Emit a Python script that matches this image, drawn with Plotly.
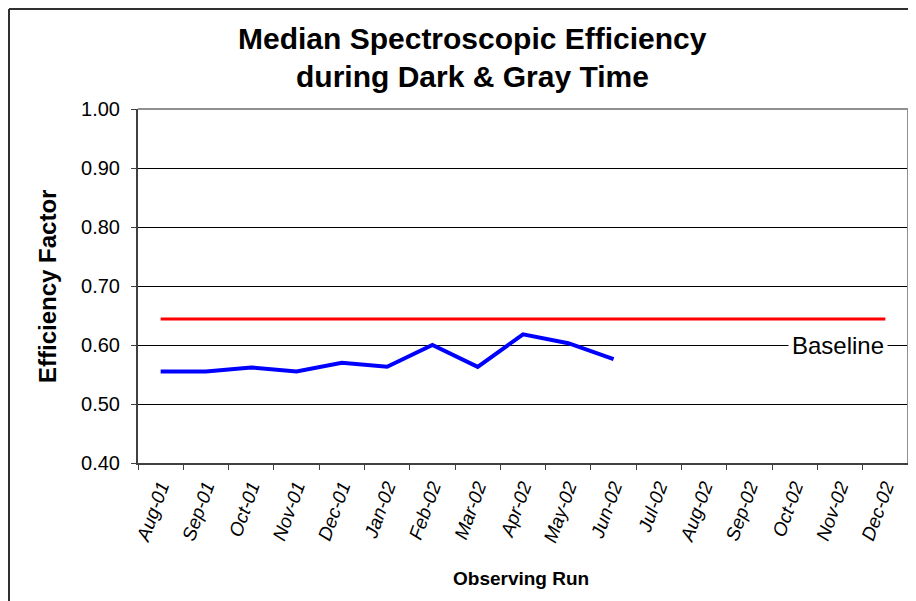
import plotly.graph_objects as go

months = ["Aug-01", "Sep-01", "Oct-01", "Nov-01", "Dec-01", "Jan-02", "Feb-02",
          "Mar-02", "Apr-02", "May-02", "Jun-02", "Jul-02", "Aug-02", "Sep-02",
          "Oct-02", "Nov-02", "Dec-02"]
efficiency = [0.555, 0.555, 0.562, 0.555, 0.570, 0.563, 0.600, 0.563, 0.618, 0.603, 0.576]
baseline_value = 0.644
baseline = [baseline_value] * len(months)
y_ticks = [0.40, 0.50, 0.60, 0.70, 0.80, 0.90, 1.00]

OFF = 8  # browser body margin
W, H = 916 - OFF, 601 - OFF
# plot area in reference pixels: x 138..908, y 109..463
L, R, T, B = 138 - OFF, 916 - 908, 109 - OFF, 601 - 463
pw, ph = W - L - R, H - T - B

def px_x(p):
    return (p - OFF - L) / pw

def px_y(p):
    return (H - B - (p - OFF)) / ph

fig = go.Figure()
fig.add_trace(go.Scatter(x=months, y=baseline, mode="lines",
                         line=dict(color="#FF0000", width=3), showlegend=False))
fig.add_trace(go.Scatter(x=months[:len(efficiency)], y=efficiency, mode="lines",
                         line=dict(color="#0000FF", width=4), showlegend=False))

fig.update_layout(
    width=W, height=H,
    margin=dict(l=L, r=R, t=T, b=B, autoexpand=False),
    paper_bgcolor="white", plot_bgcolor="white",
    font=dict(family="Arial, Liberation Sans, sans-serif", color="black"),
    xaxis=dict(type="category", categoryorder="array", categoryarray=months,
               range=[-0.5, len(months) - 0.5], tickson="boundaries",
               ticks="outside", ticklen=5, tickcolor="#404040",
               showline=True, linecolor="#404040", linewidth=2,
               showgrid=False, tickangle=-70, automargin=False,
               ticklabelstandoff=3,
               tickfont=dict(size=19, family="Arial, Liberation Sans, sans-serif", style="italic")),
    yaxis=dict(range=[0.40, 1.00], tickvals=y_ticks, tickformat=".2f",
               ticks="outside", ticklen=5, tickcolor="#404040",
               showline=True, linecolor="#404040", linewidth=2,
               showgrid=True, gridcolor="black", gridwidth=1, zeroline=False,
               ticklabelstandoff=7, automargin=False,
               tickfont=dict(size=20)),
)

# plot area border (top/right gray)
fig.add_shape(type="line", xref="paper", yref="paper", x0=0, x1=1, y0=1, y1=1,
              line=dict(color="#909090", width=2), layer="above")
fig.add_shape(type="line", xref="paper", yref="paper", x0=1, x1=1, y0=0, y1=1,
              line=dict(color="#909090", width=2), layer="above")
# outer chart border (left/top)
fig.add_shape(type="line", xref="paper", yref="paper", x0=px_x(9), x1=px_x(920), y0=px_y(9), y1=px_y(9),
              line=dict(color="#303030", width=2))
fig.add_shape(type="line", xref="paper", yref="paper", x0=px_x(9), x1=px_x(9), y0=px_y(9), y1=px_y(610),
              line=dict(color="#303030", width=2))

title_font = dict(family="Arial, Liberation Sans, sans-serif", size=30, color="black")
fig.add_annotation(text="<b>Median Spectroscopic Efficiency</b>", xref="paper", yref="paper",
                   x=px_x(472), y=px_y(38), xanchor="center", yanchor="middle",
                   showarrow=False, font=title_font)
fig.add_annotation(text="<b>during Dark &amp; Gray Time</b>", xref="paper", yref="paper",
                   x=px_x(472), y=px_y(77), xanchor="center", yanchor="middle",
                   showarrow=False, font=title_font)

fig.add_annotation(text="<b>Efficiency Factor</b>", xref="paper", yref="paper",
                   x=px_x(47), y=px_y(287), xanchor="center", yanchor="middle",
                   showarrow=False, textangle=-90, font=dict(size=24, color="black"))
fig.add_annotation(text="<b>Observing Run</b>", xref="paper", yref="paper",
                   x=px_x(521), y=px_y(578), xanchor="center", yanchor="middle",
                   showarrow=False, font=dict(size=19, color="black"))

fig.add_annotation(text="Baseline", x=14.95, y=0.60, xref="x", yref="y", showarrow=False,
                   xanchor="center", yanchor="middle",
                   bgcolor="white", font=dict(size=24, color="black"), borderpad=3)

fig.write_html("out.html")
